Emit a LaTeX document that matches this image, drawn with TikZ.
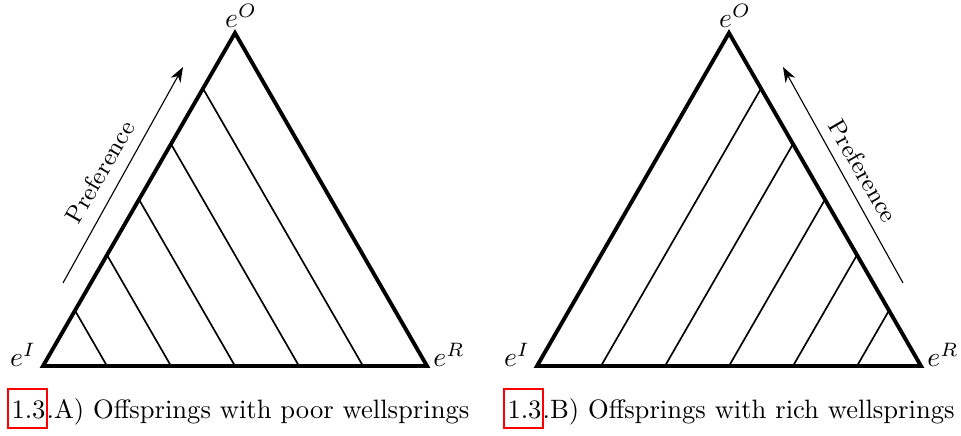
\documentclass[tikz,border=0pt]{standalone}
\usetikzlibrary{arrows.meta,calc}
\begin{document}
\begin{tikzpicture}[x=0.361pt,y=-0.361pt,
  edge/.style={line width=1.4pt,line join=miter},
  hatch/.style={line width=0.6pt},
  pref/.style={-{Stealth[length=5.5pt,width=4pt]},line width=0.4pt},
  lab/.style={inner sep=0pt},
  preftext/.style={inner sep=0pt,font=\fontsize{8.8}{10}\selectfont},
  captext/.style={inner sep=0pt,anchor=base west,font=\fontsize{9.6}{12}\selectfont},
  linkbox/.style={draw=red,line width=0.6pt}]
\useasboundingbox (0,0) rectangle (961,436);
% left triangle
\coordinate (A1) at (43,366);
\coordinate (B1) at (427,366);
\coordinate (C1) at (235,33);
\foreach \k in {1,...,5}{
  \draw[hatch] ($(A1)!\k/6!(B1)$) -- ($(A1)!\k/6!(C1)$);
}
\draw[edge] (A1) -- (B1) -- (C1) -- cycle;
\node[lab] (eO1) at (241,16) {$e^O$};
\node[lab] (eI1) at (23,355) {$e^I$};
\node[lab] (eR1) at (449,355) {$e^R$};
\coordinate (p1s) at (63,283);
\coordinate (p1e) at (183,67);
\draw[pref] (p1s) -- (p1e);
\node[preftext,rotate=60] (pt1) at (100,172) {Preference};
% right triangle
\coordinate (A2) at (537,366);
\coordinate (B2) at (921,366);
\coordinate (C2) at (729,33);
\foreach \k in {1,...,5}{
  \draw[hatch] ($(B2)!\k/6!(A2)$) -- ($(B2)!\k/6!(C2)$);
}
\draw[edge] (A2) -- (B2) -- (C2) -- cycle;
\node[lab] (eO2) at (735,16) {$e^O$};
\node[lab] (eI2) at (517,355) {$e^I$};
\node[lab] (eR2) at (943,355) {$e^R$};
\coordinate (p2s) at (903,283);
\coordinate (p2e) at (783,67);
\draw[pref] (p2s) -- (p2e);
\node[preftext,rotate=-60] (pt2) at (863,171) {Preference};
% captions
\node[captext] (numA) at (11,419) {1.3};
\node[captext] (capA) at (numA.base east) {.A) Offsprings with poor wellsprings};
\draw[linkbox] ($(numA.base west)+(-3,-30)$) rectangle ($(numA.base east)+(1,9)$);
\node[captext] (numB) at (507,419) {1.3};
\node[captext] (capB) at (numB.base east) {.B) Offsprings with rich wellsprings};
\draw[linkbox] ($(numB.base west)+(-3,-30)$) rectangle ($(numB.base east)+(1,9)$);
\end{tikzpicture}
\end{document}
